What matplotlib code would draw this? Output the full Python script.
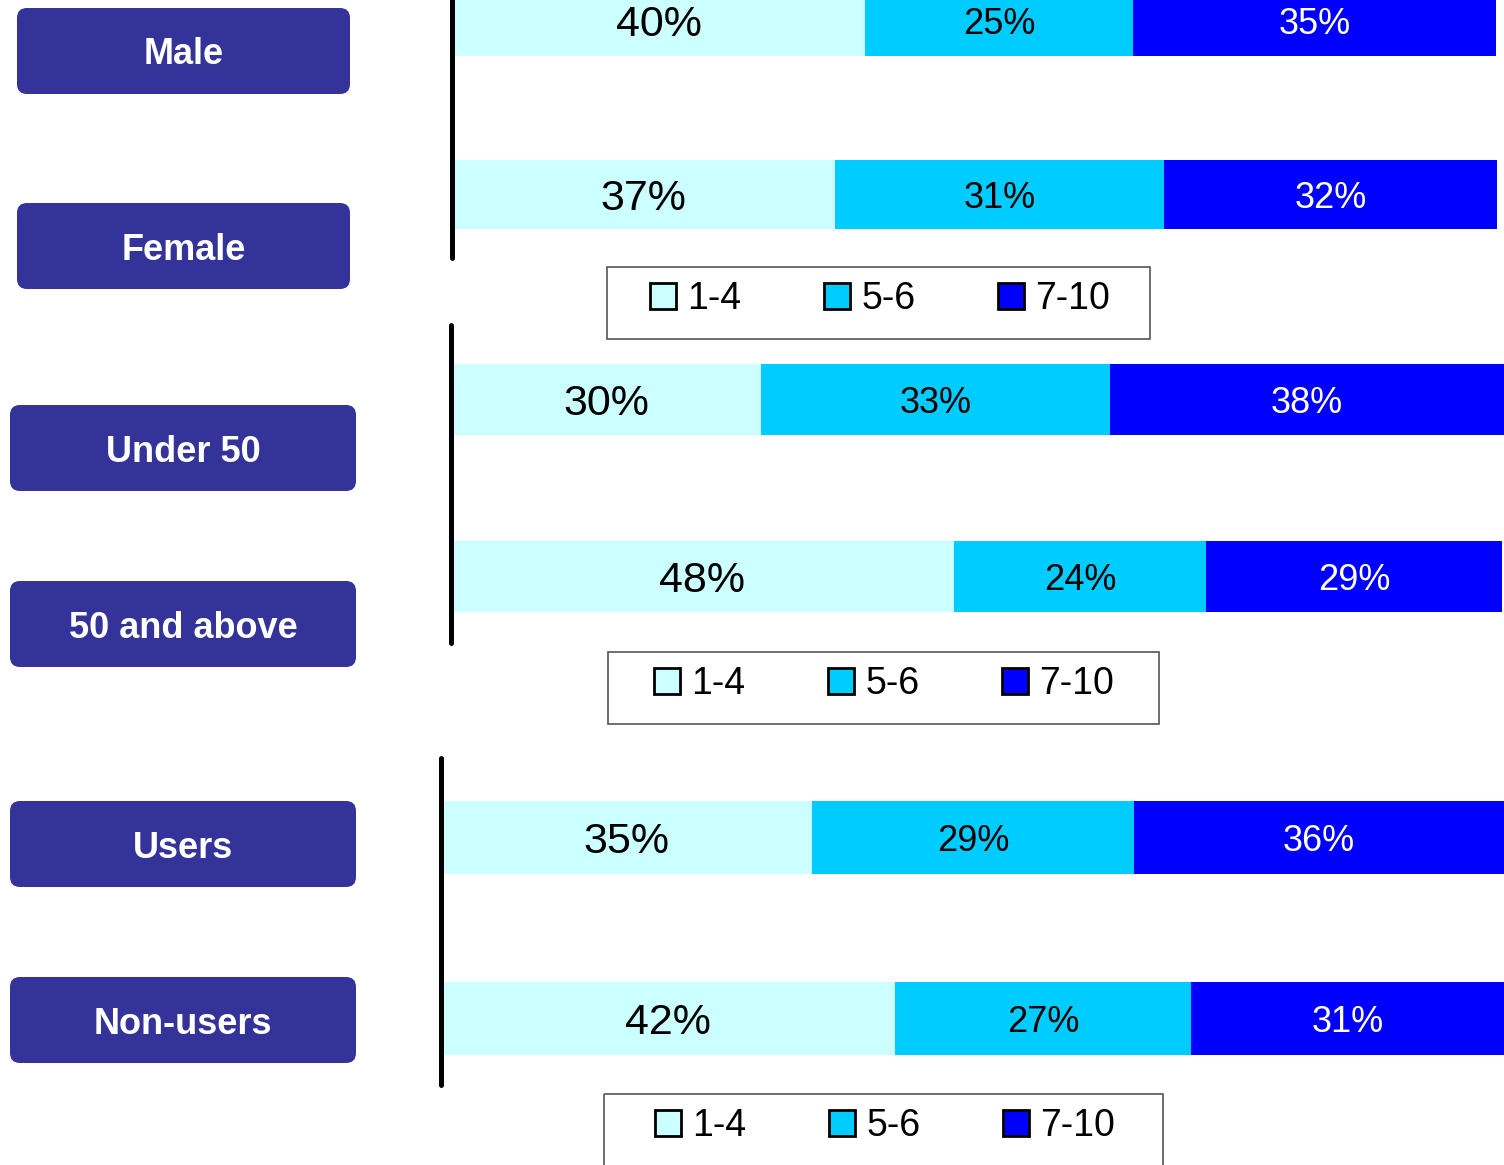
import matplotlib.pyplot as plt
from matplotlib.patches import FancyBboxPatch, Rectangle, Patch

plt.rcParams['font.family'] = ['Liberation Sans', 'DejaVu Sans']

# data: three pairs of groups, share of scores 1-4 / 5-6 / 7-10
groups = [["Male", "Female"], ["Under 50", "50 and above"], ["Users", "Non-users"]]
# bar lengths
score_low = [[39.6, 36.7], [29.5, 47.8], [34.9, 42.7]]
score_mid = [[25.6, 31.5], [33.1, 24.0], [30.3, 27.9]]
score_high = [[34.8, 31.9], [37.5, 28.1], [34.8, 29.4]]
# labels as printed on the bars
label_low = [["40%", "37%"], ["30%", "48%"], ["35%", "42%"]]
label_mid = [["25%", "31%"], ["33%", "24%"], ["29%", "27%"]]
label_high = [["35%", "32%"], ["38%", "29%"], ["36%", "31%"]]
legend_labels = ["1-4", "5-6", "7-10"]

colors = ["#CCFFFF", "#00CCFF", "#0000FF"]
text_colors = ["black", "black", "white"]
label_box_color = "#333399"

W, H = 1504, 1165
fig = plt.figure(figsize=(W / 100, H / 100), dpi=100)

# pixel layout of each panel: axes left, width, top, bottom, and ylim
panels = [
    dict(x0=452, w=1045, y0=0, y1=258, ylim=(1.366, -0.121)),
    dict(x0=451, w=1053, y0=325, y1=643, ylim=(1.376, -0.421)),
    dict(x0=441, w=1063, y0=758, y1=1085, ylim=(1.367, -0.439)),
]
label_boxes = [[(17, 8, 333, 86), (17, 203, 333, 86)],
               [(10, 405, 346, 86), (10, 581, 346, 86)],
               [(10, 801, 346, 86), (10, 977, 346, 86)]]
legend_frames = [(607, 267, 543, 72), (608, 652, 551, 72), (604, 1094, 559, 90)]
legend_centers = [(880, 299), (884, 684), (885, 1126)]

# overlay in pixel coordinates for label boxes and legend frames
ov = fig.add_axes([0, 0, 1, 1])
ov.set_xlim(0, W)
ov.set_ylim(H, 0)
ov.axis('off')

for g, p in enumerate(panels):
    ax = fig.add_axes([p['x0'] / W, 1 - p['y1'] / H, p['w'] / W, (p['y1'] - p['y0']) / H])
    segs = [score_low[g], score_mid[g], score_high[g]]
    labs = [label_low[g], label_mid[g], label_high[g]]
    ypos = list(range(len(groups[g])))
    left = [0] * len(ypos)
    for s, vals in enumerate(segs):
        ax.barh(ypos, vals, left=left, height=0.4, color=colors[s], linewidth=0)
        for i, v in enumerate(vals):
            ax.text(left[i] + v / 2, ypos[i], labs[s][i], ha='center', va='center_baseline',
                    fontsize=31 if s == 0 else 26, color=text_colors[s])
        left = [a + b for a, b in zip(left, vals)]
    ax.set_xlim(0, max(left))
    ax.set_ylim(*p['ylim'])
    for side in ['top', 'right', 'bottom']:
        ax.spines[side].set_visible(False)
    ax.spines['left'].set_linewidth(3.6)
    ax.spines['left'].set_capstyle('round')
    ax.set_xticks([])
    ax.set_yticks([])
    ax.patch.set_visible(False)

    # category label boxes
    for name, (bx, by, bw, bh) in zip(groups[g], label_boxes[g]):
        ov.add_patch(FancyBboxPatch((bx + 8, by + 8), bw - 16, bh - 16,
                                    boxstyle="round,pad=8,rounding_size=10",
                                    fc=label_box_color, ec='none'))
        ov.text(bx + bw / 2, by + bh / 2, name, ha='center', va='center_baseline',
                color='white', fontsize=26, fontweight='bold')

    # legend frame and legend
    fx, fy, fw, fh = legend_frames[g]
    ov.add_patch(Rectangle((fx, fy), fw, fh, fill=False, ec='#555555', lw=1.2))
    handles = [Patch(fc=c, ec='black', lw=2) for c in colors]
    ov.legend(handles, legend_labels, ncol=3, loc='center', frameon=False,
              bbox_to_anchor=legend_centers[g], bbox_transform=ov.transData,
              fontsize=27, handlelength=0.7, handleheight=0.7,
              handletextpad=0.3, columnspacing=2.2, borderpad=0)
    # keep earlier legends
    if g < 2:
        ov.add_artist(ov.get_legend())

fig.savefig("out.png", dpi=100)
